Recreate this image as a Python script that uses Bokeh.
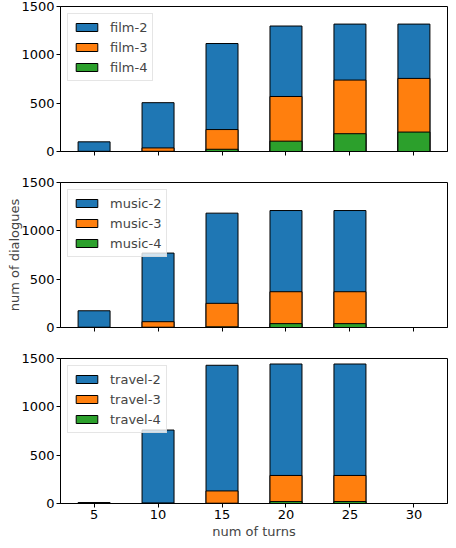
from bokeh.plotting import figure
from bokeh.models import Range1d, FixedTicker, Legend, LegendItem, CustomLabelingPolicy
from bokeh.layouts import column
from bokeh.embed import file_html
from bokeh.resources import INLINE

turns = [5, 10, 15, 20, 25, 30]
turns_short = [5, 10, 15, 20, 25]

film_2 = [100, 505, 1117, 1298, 1318, 1318]
film_3 = [2, 37, 227, 569, 739, 756]
film_4 = [0, 2, 23, 107, 184, 201]

music_2 = [173, 770, 1183, 1210, 1210]
music_3 = [3, 60, 250, 370, 370]
music_4 = [0, 3, 7, 40, 40]

travel_2 = [10, 760, 1430, 1443, 1443]
travel_3 = [3, 5, 130, 290, 290]
travel_4 = [0, 2, 3, 20, 20]

y_ticks = [0, 500, 1000, 1500]
colors = ["#1f77b4", "#ff7f0e", "#2ca02c"]
FONT = "DejaVu Sans"

# hide x tick labels on the upper panels, keep the tick marks
no_labels = CustomLabelingPolicy(code="""
    const out = indices.clone()
    for (const i of Array.from(indices)) out.unset(i)
    return out
""")


def make_panel(xs, series, names, last=False, ylabel=None, top=13):
    p = figure(
        frame_width=387,
        frame_height=145,
        min_border_left=60,
        min_border_right=1,
        min_border_top=top,
        min_border_bottom=13,
        x_range=Range1d(2.375, 32.625),
        y_range=Range1d(0, 1500),
        toolbar_location=None,
        output_backend="svg",
    )
    items = []
    for vals, name, c in zip(series, names, colors):
        r = p.vbar(x=xs, top=vals, width=2.5, bottom=0,
                   fill_color=c, line_color="black", line_width=1)
        items.append(LegendItem(label=name, renderers=[r]))

    legend = Legend(items=items, location="top_left")
    legend.margin = 7
    legend.padding = 5
    legend.spacing = 4
    legend.glyph_width = 27
    legend.glyph_height = 10
    legend.label_height = 16
    legend.label_standoff = 10
    legend.label_text_font = FONT
    legend.label_text_font_size = "13px"
    legend.border_line_color = "#cccccc"
    legend.background_fill_alpha = 0.8
    p.add_layout(legend)

    p.xgrid.visible = False
    p.ygrid.visible = False
    p.outline_line_color = "black"
    p.outline_line_width = 1

    p.xaxis.ticker = FixedTicker(ticks=turns)
    p.yaxis.ticker = FixedTicker(ticks=y_ticks)
    for ax in (p.xaxis, p.yaxis):
        ax.major_tick_in = 0
        ax.major_tick_out = 4
        ax.minor_tick_line_color = None
        ax.axis_line_color = "black"
        ax.major_label_text_font = FONT
        ax.major_label_text_font_size = "13px"
        ax.major_label_text_color = "black"
        ax.major_label_standoff = 2
        ax.axis_label_text_font = FONT
        ax.axis_label_text_font_size = "13px"
        ax.axis_label_text_font_style = "normal"
        ax.axis_label_text_line_height = 1.0
        ax.axis_label_standoff = 0

    if not last:
        p.xaxis.major_label_policy = no_labels
    else:
        p.xaxis.axis_label = "num of turns"
        p.xaxis.axis_label_standoff = 2
        p.min_border_bottom = 38
    if ylabel:
        p.yaxis.axis_label = ylabel
        p.yaxis.axis_label_standoff = -4
    return p


p1 = make_panel(turns, [film_2, film_3, film_4],
                ["film-2", "film-3", "film-4"], top=6)
p2 = make_panel(turns_short, [music_2, music_3, music_4],
                ["music-2", "music-3", "music-4"], ylabel="num of dialogues")
p3 = make_panel(turns_short, [travel_2, travel_3, travel_4],
                ["travel-2", "travel-3", "travel-4"], last=True)

p = column(p1, p2, p3, spacing=0)

open("out.html", "w").write(file_html(p, INLINE))
